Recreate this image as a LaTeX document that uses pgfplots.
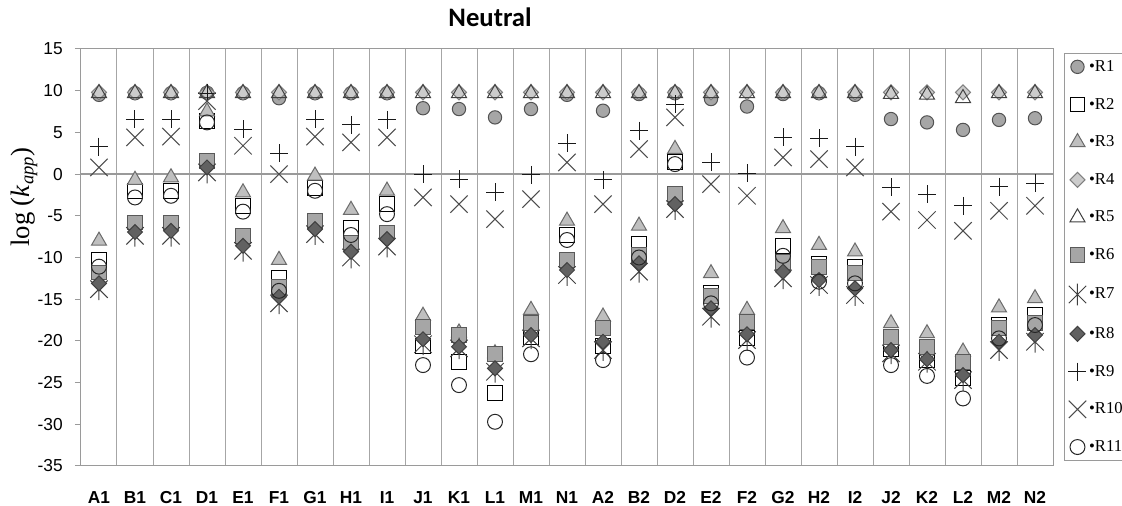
\documentclass[border=0pt]{standalone}
\usepackage{fontspec}
\setmainfont{Liberation Sans}
\newfontfamily\serif{Liberation Serif}
\newfontfamily\carlito{Carlito}
\usepackage{pgfplots}
\usepackage{pgfplotstable}
\pgfplotsset{compat=1.18}
\definecolor{axisgray}{HTML}{9A9A9A}
\definecolor{gridgray}{HTML}{A6A6A6}
\pgfdeclareplotmark{ediamond*}{%
  \pgfpathmoveto{\pgfqpoint{0pt}{\pgfplotmarksize}}%
  \pgfpathlineto{\pgfqpoint{\pgfplotmarksize}{0pt}}%
  \pgfpathlineto{\pgfqpoint{0pt}{-\pgfplotmarksize}}%
  \pgfpathlineto{\pgfqpoint{-\pgfplotmarksize}{0pt}}%
  \pgfpathclose\pgfusepathqfillstroke}
\pgfdeclareplotmark{bigx}{%
  \pgfpathmoveto{\pgfqpoint{-\pgfplotmarksize}{-\pgfplotmarksize}}%
  \pgfpathlineto{\pgfqpoint{\pgfplotmarksize}{\pgfplotmarksize}}%
  \pgfpathmoveto{\pgfqpoint{-\pgfplotmarksize}{\pgfplotmarksize}}%
  \pgfpathlineto{\pgfqpoint{\pgfplotmarksize}{-\pgfplotmarksize}}%
  \pgfusepathqstroke}
\pgfdeclareplotmark{xstar}{%
  \pgfpathmoveto{\pgfqpoint{-\pgfplotmarksize}{-\pgfplotmarksize}}%
  \pgfpathlineto{\pgfqpoint{\pgfplotmarksize}{\pgfplotmarksize}}%
  \pgfpathmoveto{\pgfqpoint{-\pgfplotmarksize}{\pgfplotmarksize}}%
  \pgfpathlineto{\pgfqpoint{\pgfplotmarksize}{-\pgfplotmarksize}}%
  \pgfpathmoveto{\pgfqpoint{0pt}{-1.25\pgfplotmarksize}}%
  \pgfpathlineto{\pgfqpoint{0pt}{1.25\pgfplotmarksize}}%
  \pgfusepathqstroke}
\pgfplotstableread{
x R1 R2 R3 R4 R5 R6 R7 R8 R9 R10 R11
0 9.5 -10.3 -8.0 9.8 9.7 -11.8 -13.8 -13.1 3.3 0.8 -11.1
1 9.7 -2.0 -0.7 9.8 9.7 -5.8 -7.4 -6.95 6.6 4.4 -2.8
2 9.7 -2.0 -0.4 9.8 9.7 -5.8 -7.4 -6.8 6.6 4.5 -2.6
3 9.75 6.4 7.5 9.8 9.7 1.6 0.2 0.8 9.7 8.75 6.2
4 9.7 -3.8 -2.2 9.8 9.7 -7.4 -9.2 -8.6 5.4 3.4 -4.5
5 9.1 -12.5 -10.3 9.8 9.7 -13.5 -15.5 -14.7 2.5 0.0 -14.0
6 9.7 -1.7 -0.2 9.8 9.7 -5.6 -7.2 -6.6 6.6 4.5 -2.0
7 9.7 -6.5 -4.3 9.8 9.7 -8.2 -10.0 -9.3 5.9 3.8 -7.3
8 9.7 -3.6 -2.0 9.8 9.7 -7.0 -8.7 -7.8 6.5 4.4 -4.8
9 7.9 -20.6 -17.0 9.8 9.7 -18.3 -20.4 -19.8 0.0 -2.8 -22.9
10 7.8 -22.5 -19.0 9.8 9.7 -19.3 -20.9 -20.7 -0.6 -3.6 -25.3
11 6.8 -26.3 -21.5 9.8 9.7 -21.6 -23.7 -23.3 -2.2 -5.4 -29.7
12 7.8 -19.5 -16.3 9.8 9.7 -17.9 -19.7 -19.3 -0.1 -3.0 -21.6
13 9.5 -7.3 -5.6 9.8 9.7 -10.3 -12.1 -11.5 3.7 1.4 -7.9
14 7.6 -20.6 -17.1 9.8 9.7 -18.5 -21.1 -20.1 -0.7 -3.6 -22.3
15 9.6 -8.4 -6.2 9.8 9.7 -9.7 -11.7 -10.7 5.2 3.0 -10.0
16 9.7 1.4 3.0 9.8 9.7 -2.4 -4.2 -3.6 8.4 6.8 1.2
17 9.0 -14.2 -11.9 9.8 9.7 -14.6 -17.1 -16.1 1.4 -1.2 -15.5
18 8.1 -19.7 -16.3 9.8 9.7 -17.7 -19.9 -19.2 0.1 -2.6 -22.0
19 9.6 -8.6 -6.5 9.8 9.7 -10.5 -12.5 -11.7 4.4 2.0 -9.8
20 9.7 -10.8 -8.5 9.8 9.7 -11.1 -13.3 -12.7 4.3 1.8 -12.9
21 9.5 -11.1 -9.3 9.8 9.7 -11.9 -14.5 -13.7 3.3 0.8 -13.1
22 6.6 -21.0 -17.9 9.8 9.6 -19.5 -21.5 -21.1 -1.6 -4.5 -22.9
23 6.2 -22.3 -19.1 9.8 9.5 -20.7 -22.5 -22.2 -2.4 -5.5 -24.2
24 5.3 -24.5 -21.3 9.8 9.1 -22.5 -24.7 -24.1 -3.8 -6.8 -26.9
25 6.5 -18.1 -16.0 9.8 9.7 -18.5 -21.1 -20.1 -1.5 -4.4 -19.7
26 6.7 -16.9 -14.9 9.8 9.7 -17.9 -20.1 -19.3 -1.1 -3.8 -18.1
}\data
\begin{document}
\begin{tikzpicture}
\useasboundingbox (-60.75pt,-30pt) rectangle (780.75pt,349.5pt);
\begin{axis}[
  scale only axis, width=729pt, height=312.75pt,
  xmin=-0.5, xmax=26.5, ymin=-35, ymax=15,
  xtick={0,...,26},
  xticklabels={A1,B1,C1,D1,E1,F1,G1,H1,I1,J1,K1,L1,M1,N1,A2,B2,D2,E2,F2,G2,H2,I2,J2,K2,L2,M2,N2},
  minor x tick num=1, xminorgrids=true,
  minor x grid style={draw=gridgray, line width=0.75pt},
  xtick style={draw=none}, minor x tick style={draw=none},
  ytick={-35,-30,...,15},
  ytick pos=left, xtick pos=bottom,
  tick align=outside, major tick length=4.5pt,
  y tick style={draw=axisgray, line width=0.75pt},
  axis line style={draw=axisgray, line width=0.75pt},
  extra y ticks={0}, extra y tick labels={},
  extra y tick style={grid=major, major grid style={draw=axisgray, line width=1.1pt}, tick style={draw=none}},
  /pgf/number format/assume math mode=true,
  yticklabel style={font=\fontsize{13}{15}\selectfont, inner sep=0pt, anchor=east, xshift=-9pt},
  xticklabel style={font=\bfseries\fontsize{13}{15}\selectfont, inner sep=0pt, anchor=base, yshift=-23.5pt},
  title={Neutral},
  title style={font=\carlito\bfseries\fontsize{20}{24}\selectfont, at={(0.4208,1)}, anchor=base, yshift=10.5pt, inner sep=0pt},
  ylabel={\serif log (\textit{k}\textsubscript{\textit{app}})},
  every axis y label/.style={at={(axis description cs:-0.0586,0.645)}, rotate=90, anchor=center, font=\fontsize{20}{24}\selectfont},
  legend style={at={(1.0113,0.99)}, anchor=north west, draw=axisgray, line width=0.75pt,
    font=\serif\fontsize{12.5}{14}\selectfont, row sep=14.5pt, inner sep=3pt},
  legend cell align=left,
  every axis plot/.append style={only marks, line width=0.75pt},
]
\addplot[mark=*, mark size=5pt, draw=black!68, fill=black!35] table[x=x,y=R1]{\data};
\addlegendentry{•R1}
\addplot[mark=square, mark size=5.6pt, draw=black] table[x=x,y=R2]{\data};
\addlegendentry{•R2}
\addplot[mark=triangle*, mark size=6.5pt, draw=black!58, fill=black!25] table[x=x,y=R3]{\data};
\addlegendentry{•R3}
\addplot[mark=ediamond*, mark size=5.6pt, draw=black!50, fill=black!20] table[x=x,y=R4]{\data};
\addlegendentry{•R4}
\addplot[mark=triangle, mark size=6.5pt, draw=black!75] table[x=x,y=R5]{\data};
\addlegendentry{•R5}
\addplot[mark=square*, mark size=5.6pt, draw=black!65, fill=black!35] table[x=x,y=R6]{\data};
\addlegendentry{•R6}
\addplot[mark=xstar, mark size=6.5pt, draw=black!75] table[x=x,y=R7]{\data};
\addlegendentry{•R7}
\addplot[mark=ediamond*, mark size=5.6pt, draw=black!75, fill=black!62] table[x=x,y=R8]{\data};
\addlegendentry{•R8}
\addplot[mark=+, mark size=6.75pt, draw=black!90] table[x=x,y=R9]{\data};
\addlegendentry{•R9}
\addplot[mark=bigx, mark size=6.5pt, draw=black!70] table[x=x,y=R10]{\data};
\addlegendentry{•R10}
\addplot[mark=o, mark size=5.6pt, draw=black!85] table[x=x,y=R11]{\data};
\addlegendentry{•R11}
\end{axis}
\end{tikzpicture}
\end{document}
